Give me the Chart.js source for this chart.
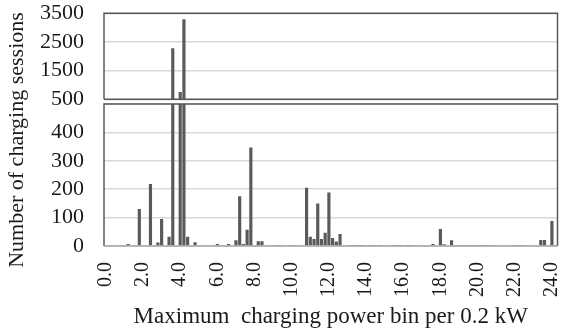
<!DOCTYPE html>
<html>
<head>
<meta charset="utf-8">
<script src="https://cdn.jsdelivr.net/npm/chart.js@4"></script>
<style>
  body { margin: 0; background: #fff; }
  #wrap { position: relative; width: 562px; height: 336px; }
  #wrap canvas { position: absolute; left: 0; top: 0; }
</style>
</head>
<body>
<div id="wrap">
  <canvas id="lowerChart" width="562" height="336"></canvas>
  <canvas id="upperChart" width="562" height="114"></canvas>
</div>
<script>
document.addEventListener("DOMContentLoaded", function() {

// 0.2 kW bins, 0.0 .. 24.2
const binLabels = [];
for (let i = 0; i < 122; i++) binLabels.push((i * 0.2).toFixed(1));

const tickLabels = ["0.0", "2.0", "4.0", "6.0", "8.0", "10.0", "12.0",
  "14.0", "16.0", "18.0", "20.0", "22.0", "24.0"];

// number of charging sessions per bin
const sessions = [
  0, 0, 0, 0, 0, 2, 7, 0, 0, 130,
  0, 3, 218, 0, 12, 95, 0, 33, 2280, 0,
  755, 3290, 33, 0, 13, 0, 0, 3, 0, 3,
  7, 0, 0, 7, 0, 20, 175, 7, 57, 347,
  0, 17, 17, 0, 0, 0, 1, 1, 0, 0,
  1, 1, 0, 0, 205, 33, 25, 150, 25, 47,
  188, 28, 16, 42, 0, 0, 1, 1, 1, 1,
  0, 1, 1, 0, 1, 0, 0, 1, 1, 1,
  0, 1, 1, 0, 2, 0, 0, 3, 7, 0,
  60, 6, 3, 20, 2, 1, 1, 1, 1, 1,
  1, 1, 1, 1, 1, 0, 0, 0, 0, 0,
  1, 1, 1, 0, 3, 0, 0, 21, 21, 0,
  88, 2
];

const upperRange = [500, 3500];
const lowerRange = [0, 500];

const serif = "'Liberation Serif', 'Times New Roman', serif";
const barColor = '#595959';
const gridColor = '#d9d9d9';
const textColor = '#1a1a1a';

function frame(bottomColor) {
  return {
    id: 'frame',
    afterDatasetsDraw(chart) {
      const a = chart.chartArea, c = chart.ctx;
      c.save();
      c.lineWidth = 1.5;
      c.strokeStyle = barColor;
      c.beginPath();
      c.moveTo(a.left, a.bottom);
      c.lineTo(a.left, a.top);
      c.lineTo(a.right, a.top);
      c.lineTo(a.right, a.bottom);
      c.stroke();
      c.strokeStyle = bottomColor;
      c.beginPath();
      c.moveTo(a.left, a.bottom);
      c.lineTo(a.right, a.bottom);
      c.stroke();
      c.restore();
    }
  };
}

const yTitle = {
  id: 'yTitle',
  afterDraw(chart) {
    const c = chart.ctx;
    c.save();
    c.translate(17, 140);
    c.rotate(-Math.PI / 2);
    c.font = "22px " + serif;
    c.fillStyle = textColor;
    c.textAlign = 'center';
    c.textBaseline = 'middle';
    c.fillText('Number of charging sessions', 0, 0);
    c.restore();
  }
};

function yAxis(range, step, hideTop) {
  return {
    min: range[0],
    max: range[1],
    afterFit: function(scale) {
      scale.width = 104;
      scale.paddingTop = 0;
      scale.paddingBottom = 0;
    },
    border: { display: false },
    grid: { color: gridColor, lineWidth: 1.5, drawTicks: false },
    ticks: {
      stepSize: step,
      autoSkip: false,
      padding: 20,
      color: textColor,
      font: { family: serif, size: 22 },
      callback: function(v) { return (hideTop && v === range[1]) ? '' : v; }
    }
  };
}

// lower panel: 0 - 500
new Chart(document.getElementById('lowerChart').getContext('2d'), {
  type: 'bar',
  data: {
    labels: binLabels,
    datasets: [{
      data: sessions,
      backgroundColor: barColor,
      barPercentage: 0.85,
      categoryPercentage: 1.0,
      clip: 0
    }]
  },
  options: {
    responsive: false,
    animation: false,
    events: [],
    layout: { padding: { top: 104, right: 4.5, left: 0, bottom: 0 } },
    plugins: { legend: { display: false }, tooltip: { enabled: false } },
    scales: {
      x: {
        afterFit: function(scale) {
          scale.height = 90;
          scale.paddingLeft = 0;
          scale.paddingRight = 0;
        },
        border: { display: false },
        grid: { display: false, drawTicks: false },
        ticks: {
          autoSkip: false,
          minRotation: 90,
          maxRotation: 90,
          padding: 16,
          color: textColor,
          font: { family: serif, size: 20 },
          callback: function(v, i) {
            const lab = binLabels[i];
            return tickLabels.includes(lab) ? lab : '';
          }
        },
        title: {
          display: true,
          text: 'Maximum  charging power bin per 0.2 kW',
          color: textColor,
          font: { family: serif, size: 23 },
          padding: { top: 4, bottom: 5 }
        }
      },
      y: yAxis(lowerRange, 100, true)
    }
  },
  plugins: [frame('#a6a6a6'), yTitle]
});

// upper panel: 500 - 3500
new Chart(document.getElementById('upperChart').getContext('2d'), {
  type: 'bar',
  data: {
    labels: binLabels,
    datasets: [{
      data: sessions.map(v => v > upperRange[0] ? v : null),
      backgroundColor: barColor,
      barPercentage: 0.85,
      categoryPercentage: 1.0,
      clip: 0
    }]
  },
  options: {
    responsive: false,
    animation: false,
    events: [],
    layout: { padding: { top: 13.3, right: 4.5, left: 0, bottom: 14.7 } },
    plugins: { legend: { display: false }, tooltip: { enabled: false } },
    scales: {
      x: { display: false },
      y: yAxis(upperRange, 1000, false)
    }
  },
  plugins: [frame(barColor)]
});

});
</script>
</body>
</html>
